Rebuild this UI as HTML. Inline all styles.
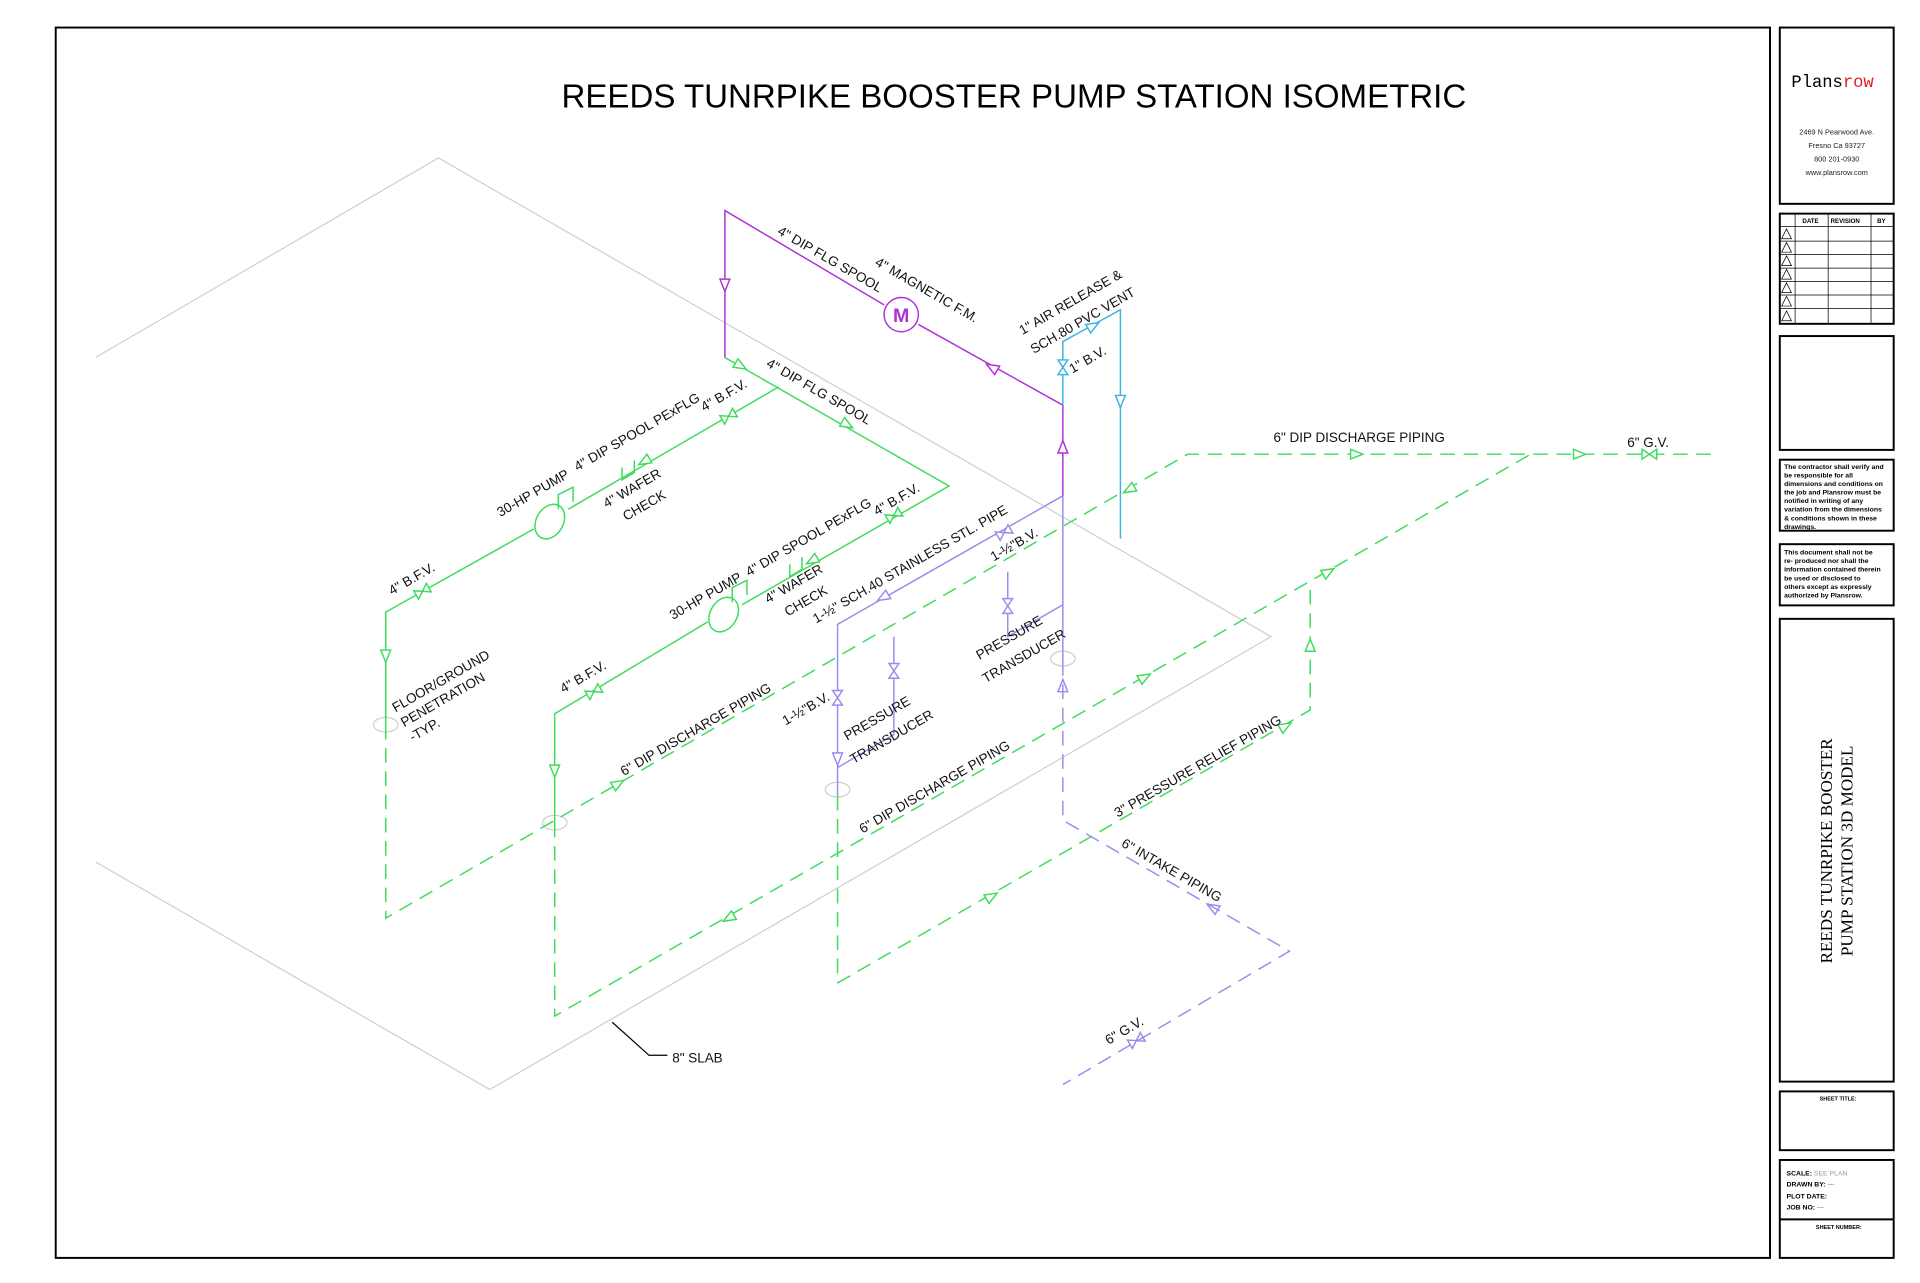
<!DOCTYPE html>
<html><head><meta charset="utf-8"><style>
html,body{margin:0;padding:0;background:#fff;}
svg{display:block;}
text{font-family:"Liberation Sans",sans-serif;}
.l{font-size:11px;fill:#111;}
.serif{font-family:"Liberation Serif",serif;}
.mono{font-family:"Liberation Mono",monospace;}
</style></head><body>
<svg width="1920" height="1283" viewBox="0 0 1568 1048" preserveAspectRatio="none" xmlns="http://www.w3.org/2000/svg">
<defs>
<path id="ar" d="M-5,-4 L5,0 L-5,4 Z" fill="#fff"/>
<path id="vv" d="M-6,-4 L6,4 L6,-4 L-6,4 Z" fill="#fff"/>
</defs>
<rect width="1568" height="1048" fill="#fff"/>
<rect x="45.5" y="22.5" width="1400" height="1005" fill="none" stroke="#000" stroke-width="1.6"/>
<g fill="none" stroke="#000" stroke-width="1.6">
<rect x="1453.5" y="22.5" width="93" height="144"/>
<rect x="1453.5" y="174.5" width="93" height="90"/>
<rect x="1453.5" y="274.5" width="93" height="93"/>
<rect x="1453.5" y="375.5" width="93" height="58"/>
<rect x="1453.5" y="444.5" width="93" height="50"/>
<rect x="1453.5" y="505.5" width="93" height="378"/>
<rect x="1453.5" y="891.5" width="93" height="48"/>
<rect x="1453.5" y="947.5" width="93" height="80"/>
<line x1="1453" y1="996" x2="1547" y2="996"/>
</g>
<g stroke="#000" stroke-width="0.6" fill="none">
<line x1="1453" y1="185" x2="1547" y2="185"/>
<line x1="1453" y1="197" x2="1547" y2="197"/>
<line x1="1453" y1="208" x2="1547" y2="208"/>
<line x1="1453" y1="219" x2="1547" y2="219"/>
<line x1="1453" y1="230" x2="1547" y2="230"/>
<line x1="1453" y1="241" x2="1547" y2="241"/>
<line x1="1453" y1="252" x2="1547" y2="252"/>
<line x1="1466" y1="174" x2="1466" y2="264"/>
<line x1="1493" y1="174" x2="1493" y2="264"/>
<line x1="1528" y1="174" x2="1528" y2="264"/>
<path d="M1455,195 l4,-8 l4,8 Z M1455,206 l4,-8 l4,8 Z M1455,217 l4,-8 l4,8 Z M1455,228 l4,-8 l4,8 Z M1455,239 l4,-8 l4,8 Z M1455,250 l4,-8 l4,8 Z M1455,262 l4,-8 l4,8 Z"/>
</g>
<g font-size="5" font-weight="bold" fill="#000">
<text x="1472" y="182">DATE</text><text x="1495" y="182">REVISION</text><text x="1533" y="182">BY</text>
</g>
<text x="1463" y="71" font-size="14" class="mono" fill="#000">Plans<tspan fill="#d22">row</tspan></text>
<g font-size="6" fill="#222" text-anchor="middle">
<text x="1500" y="110">2469 N Pearwood Ave.</text>
<text x="1500" y="121">Fresno Ca 93727</text>
<text x="1500" y="132">800 201-0930</text>
<text x="1500" y="143">www.plansrow.com</text>
</g>
<g font-size="5.6" font-weight="bold" fill="#000">
<text x="1457" y="383">The contractor shall verify and</text>
<text x="1457" y="390">be responsible for all</text>
<text x="1457" y="397">dimensions and conditions on</text>
<text x="1457" y="404">the job and Plansrow must be</text>
<text x="1457" y="411">notified in writing of any</text>
<text x="1457" y="418">variation from the dimensions</text>
<text x="1457" y="425">&amp; conditions shown in these</text>
<text x="1457" y="432">drawings.</text>
<text x="1457" y="453">This document shall not be</text>
<text x="1457" y="460">re- produced nor shall the</text>
<text x="1457" y="467">information contained therein</text>
<text x="1457" y="474">be used or disclosed to</text>
<text x="1457" y="481">others except as expressly</text>
<text x="1457" y="488">authorized by Plansrow.</text>
<text x="1486" y="899" font-size="4.5">SHEET TITLE:</text>
<text x="1459" y="960">SCALE: <tspan fill="#999" font-weight="normal">SEE PLAN</tspan></text>
<text x="1459" y="969">DRAWN BY: <tspan fill="#999">---</tspan></text>
<text x="1459" y="979">PLOT DATE:</text>
<text x="1459" y="988">JOB NO: <tspan fill="#999">---</tspan></text>
<text x="1483" y="1004" font-size="4.5">SHEET NUMBER:</text>
</g>
<g font-size="14" fill="#000" text-anchor="middle">
<text class="serif" transform="translate(1496,695) rotate(-90)">REEDS TUNRPIKE BOOSTER</text>
<text class="serif" transform="translate(1513,695) rotate(-90)">PUMP STATION  3D MODEL</text>
</g>
<text x="828" y="88" font-size="27" text-anchor="middle" fill="#000">REEDS TUNRPIKE BOOSTER PUMP STATION ISOMETRIC</text>
<g stroke="#cfcfcf" stroke-width="1" fill="none">
<path d="M78,292 L358,129 L1038,520 L400,890 L78,704"/>
<ellipse cx="315" cy="592" rx="10" ry="6"/>
<ellipse cx="453" cy="672" rx="10" ry="6"/>
<ellipse cx="684" cy="645" rx="10" ry="6"/>
<ellipse cx="868" cy="538" rx="10" ry="6"/>
</g>
<path d="M500,835 L530,862 L545,862" stroke="#000" fill="none"/>
<text x="549" y="868" class="l">8" SLAB</text>
<g stroke="#b030d8" stroke-width="1.2" fill="none">
<path d="M592,292 L592,172 L722,249 M750,265 L868,331 L868,405"/>
<circle cx="736" cy="257" r="14"/>
<use href="#ar" transform="translate(592,233) rotate(90)"/>
<use href="#ar" transform="translate(810,300) rotate(210)"/>
<use href="#ar" transform="translate(868,365) rotate(-90)"/>
</g>
<text x="736" y="263" font-size="16" font-weight="bold" fill="#b030d8" text-anchor="middle">M</text>
<g stroke="#3ab4e0" stroke-width="1.2" fill="none">
<path d="M868,331 L868,279 L915,253 L915,440"/>
<use href="#vv" transform="translate(868,300) rotate(90)"/>
<use href="#ar" transform="translate(893,266) rotate(-30)"/>
<use href="#ar" transform="translate(915,328) rotate(90)"/>
</g>
<g stroke="#3ddc5a" stroke-width="1.2" fill="none">
<path d="M592,292 L775,397 L606,494 M578,508 L453,583 L453,672"/>
<path d="M636,316 L464,416 M436,432 L315,500 L315,592"/>
<ellipse cx="449" cy="426" rx="11" ry="15" transform="rotate(30 449 426)"/>
<path d="M456,416 L456,404 L468,398 L468,410"/>
<ellipse cx="591" cy="502" rx="11" ry="15" transform="rotate(30 591 502)"/>
<path d="M598,492 L598,480 L610,474 L610,486"/>
<use href="#ar" transform="translate(605,299) rotate(30)"/>
<use href="#ar" transform="translate(692,347) rotate(30)"/>
<use href="#vv" transform="translate(595,340) rotate(150)"/>
<use href="#vv" transform="translate(730,421) rotate(150)"/>
<use href="#vv" transform="translate(345,483) rotate(150)"/>
<use href="#vv" transform="translate(485,565) rotate(150)"/>
<path d="M508,382 L508,392 L518,386 L518,376 M645,461 L645,471 L655,465 L655,455"/>
<use href="#ar" transform="translate(526,377) rotate(150)"/>
<use href="#ar" transform="translate(663,458) rotate(150)"/>
<use href="#ar" transform="translate(315,536) rotate(90)"/>
<use href="#ar" transform="translate(453,630) rotate(90)"/>
</g>
<g stroke="#3ddc5a" stroke-width="1.2" fill="none" stroke-dasharray="12,7">
<path d="M315,592 L315,750 L970,371 L1403,371"/>
<path d="M453,672 L453,830 L1250,371"/>
<path d="M684,803 L1070,580 L1070,476"/>
<path d="M684,650 L684,803"/>
</g>
<g stroke="#3ddc5a" stroke-width="1.2" fill="none">
<use href="#ar" transform="translate(505,640) rotate(-30)"/>
<use href="#ar" transform="translate(595,750) rotate(150)"/>
<use href="#ar" transform="translate(810,732) rotate(-30)"/>
<use href="#ar" transform="translate(935,553) rotate(-30)"/>
<use href="#ar" transform="translate(1085,467) rotate(-30)"/>
<use href="#ar" transform="translate(1108,371) rotate(0)"/>
<use href="#ar" transform="translate(1290,371) rotate(0)"/>
<use href="#vv" transform="translate(1347,371) rotate(0)"/>
<use href="#ar" transform="translate(922,400) rotate(150)"/>
<use href="#ar" transform="translate(1070,527) rotate(-90)"/>
<use href="#ar" transform="translate(1050,593) rotate(-30)"/>
</g>
<g stroke="#9a8cec" stroke-width="1.2" fill="none">
<path d="M868,405 L868,540 M868,405 L684,510 L684,650"/>
<path d="M868,494 L823,520 L823,467"/>
<path d="M684,627 L730,600 L730,520"/>
<use href="#vv" transform="translate(820,435) rotate(150)"/>
<use href="#ar" transform="translate(721,488) rotate(150)"/>
<use href="#vv" transform="translate(823,495) rotate(90)"/>
<use href="#vv" transform="translate(730,548) rotate(90)"/>
<use href="#vv" transform="translate(684,570) rotate(90)"/>
<use href="#ar" transform="translate(684,620) rotate(90)"/>
<use href="#ar" transform="translate(868,560) rotate(-90)"/>
<use href="#ar" transform="translate(990,741) rotate(210)"/>
<use href="#vv" transform="translate(928,850) rotate(150)"/>
</g>
<path d="M868,540 L868,670 L1053,777 L868,886" stroke="#9a8cec" stroke-width="1.2" fill="none" stroke-dasharray="12,7"/>
<g class="l" text-anchor="middle">
<text transform="translate(676,215) rotate(30)">4" DIP FLG SPOOL</text>
<text transform="translate(755,240) rotate(30)">4" MAGNETIC F.M.</text>
<text transform="translate(876,250) rotate(-30)">1" AIR RELEASE &amp;</text>
<text transform="translate(886,265) rotate(-30)">SCH.80 PVC VENT</text>
<text transform="translate(890,297) rotate(-30)">1" B.V.</text>
<text transform="translate(667,323) rotate(30)">4" DIP FLG SPOOL</text>
<text transform="translate(593,326) rotate(-30)">4" B.F.V.</text>
<text transform="translate(522,356) rotate(-30)">4" DIP SPOOL PExFLG</text>
<text transform="translate(437,406) rotate(-30)">30-HP PUMP</text>
<text transform="translate(518,402) rotate(-30)">4" WAFER</text>
<text transform="translate(528,416) rotate(-30)">CHECK</text>
<text transform="translate(338,476) rotate(-30)">4" B.F.V.</text>
<text transform="translate(734,411) rotate(-30)">4" B.F.V.</text>
<text transform="translate(662,442) rotate(-30)">4" DIP SPOOL PExFLG</text>
<text transform="translate(578,490) rotate(-30)">30-HP PUMP</text>
<text transform="translate(650,480) rotate(-30)">4" WAFER</text>
<text transform="translate(660,494) rotate(-30)">CHECK</text>
<text transform="translate(745,464) rotate(-30)">1-½" SCH.40 STAINLESS STL. PIPE</text>
<text transform="translate(830,448) rotate(-30)">1-½"B.V.</text>
<text transform="translate(826,524) rotate(-30)">PRESSURE</text>
<text transform="translate(838,539) rotate(-30)">TRANSDUCER</text>
<text transform="translate(478,556) rotate(-30)">4" B.F.V.</text>
<text transform="translate(570,599) rotate(-30)">6" DIP DISCHARGE PIPING</text>
<text transform="translate(660,582) rotate(-30)">1-½"B.V.</text>
<text transform="translate(718,590) rotate(-30)">PRESSURE</text>
<text transform="translate(730,605) rotate(-30)">TRANSDUCER</text>
<text transform="translate(765,646) rotate(-30)">6" DIP DISCHARGE PIPING</text>
<text transform="translate(980,629) rotate(-30)">3" PRESSURE RELIEF PIPING</text>
<text transform="translate(955,714) rotate(30)">6" INTAKE PIPING</text>
<text transform="translate(920,845) rotate(-30)">6" G.V.</text>
<text x="1110" y="361">6" DIP DISCHARGE PIPING</text>
<text x="1346" y="365">6" G.V.</text>
</g>
<g class="l">
<text transform="translate(323,582) rotate(-30)">FLOOR/GROUND</text>
<text transform="translate(330,594) rotate(-30)">PENETRATION</text>
<text transform="translate(337,606) rotate(-30)">-TYP.</text>
</g>
</svg>
</body></html>
